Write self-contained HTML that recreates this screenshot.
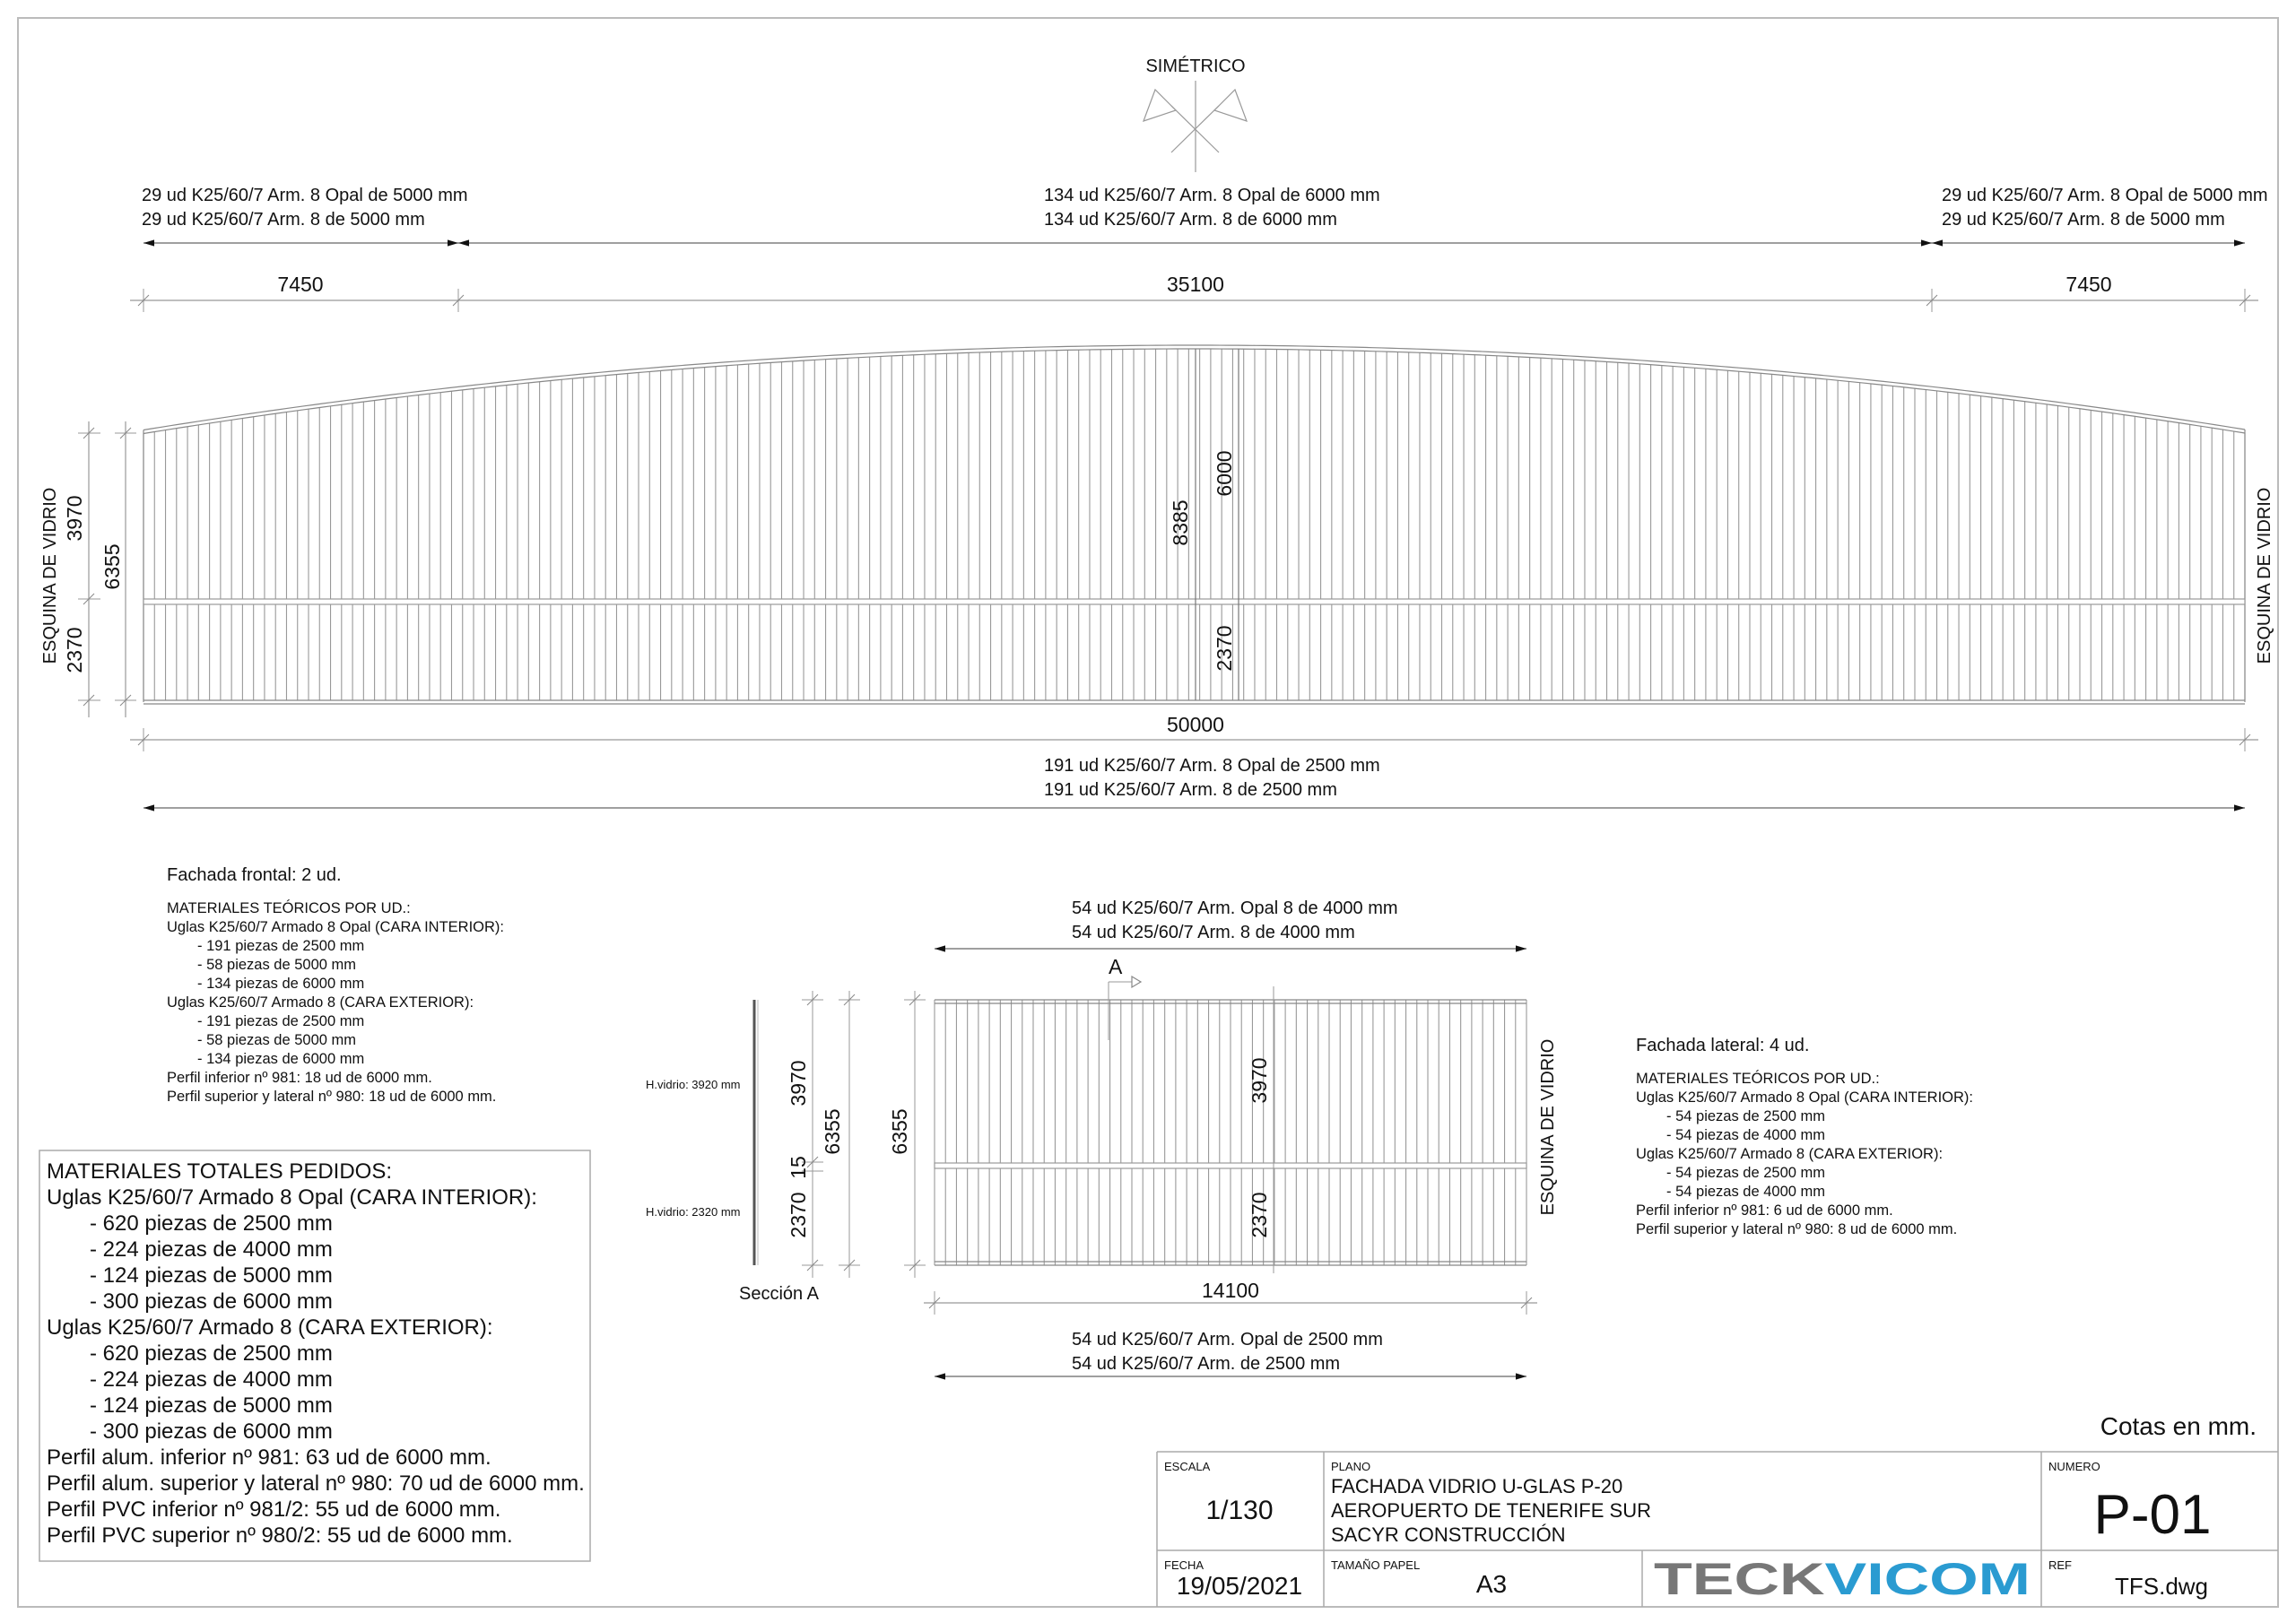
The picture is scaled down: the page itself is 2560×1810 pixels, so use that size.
<!DOCTYPE html>
<html><head><meta charset="utf-8">
<style>
html,body{margin:0;padding:0;background:#fff;}
svg{display:block;}
text{font-family:"Liberation Sans",sans-serif;fill:#111;}
</style></head>
<body>
<svg id="s" width="2560" height="1810" viewBox="0 0 2560 1810" xmlns="http://www.w3.org/2000/svg">
<defs>
<marker id="ar" viewBox="0 0 10 10" refX="10" refY="5" markerWidth="12" markerHeight="12" markerUnits="userSpaceOnUse" orient="auto-start-reverse"><path d="M0,2 L10,5 L0,8 z" fill="#111"/></marker>
</defs>
<rect x="20" y="20" width="2520" height="1772" fill="none" stroke="#bbb" stroke-width="2"/>
<g id="g" stroke="#888" stroke-width="1.2" fill="none"></g>

<g stroke="#999" stroke-width="1.2" fill="none">
<line x1="1333" y1="90" x2="1333" y2="192"/>
<line x1="1306" y1="170" x2="1359" y2="118"/>
<line x1="1359" y1="170" x2="1306" y2="118"/>
<polygon points="1288,100 1275,135 1311,123"/>
<polygon points="1377,100 1390,135 1354,123"/>
</g>
<text x="1333" y="80" font-size="20" text-anchor="middle">SIMÉTRICO</text>

<g font-size="20">
<text x="158" y="224">29 ud K25/60/7 Arm. 8 Opal de 5000 mm</text>
<text x="158" y="251">29 ud K25/60/7 Arm. 8 de 5000 mm</text>
<text x="1164" y="224">134 ud K25/60/7 Arm. 8 Opal de 6000 mm</text>
<text x="1164" y="251">134 ud K25/60/7 Arm. 8 de 6000 mm</text>
<text x="2165" y="224">29 ud K25/60/7 Arm. 8 Opal de 5000 mm</text>
<text x="2165" y="251">29 ud K25/60/7 Arm. 8 de 5000 mm</text>
<text x="1164" y="860">191 ud K25/60/7 Arm. 8 Opal de 2500 mm</text>
<text x="1164" y="887">191 ud K25/60/7 Arm. 8 de 2500 mm</text>
</g>
<g font-size="23" text-anchor="middle">
<text x="335" y="325">7450</text>
<text x="1333" y="325">35100</text>
<text x="2329" y="325">7450</text>
<text x="1333" y="816">50000</text>
</g>
<g font-size="23" text-anchor="middle">
<text transform="translate(62,642) rotate(-90)" font-size="20">ESQUINA DE VIDRIO</text>
<text transform="translate(91,578) rotate(-90)">3970</text>
<text transform="translate(91,725) rotate(-90)">2370</text>
<text transform="translate(133,632) rotate(-90)">6355</text>
<text transform="translate(1324,583) rotate(-90)">8385</text>
<text transform="translate(1373,528) rotate(-90)">6000</text>
<text transform="translate(1373,723) rotate(-90)">2370</text>
<text transform="translate(2531,642) rotate(-90)" font-size="20">ESQUINA DE VIDRIO</text>
</g>

<text x="186" y="982" font-size="20">Fachada frontal: 2 ud.</text>
<g font-size="16.5">
<text x="186" y="1018">MATERIALES TEÓRICOS POR UD.:</text>
<text x="186" y="1039">Uglas K25/60/7 Armado 8 Opal (CARA INTERIOR):</text>
<text x="220" y="1060">- 191 piezas de 2500 mm</text>
<text x="220" y="1081">- 58 piezas de 5000 mm</text>
<text x="220" y="1102">- 134 piezas de 6000 mm</text>
<text x="186" y="1123">Uglas K25/60/7 Armado 8 (CARA EXTERIOR):</text>
<text x="220" y="1144">- 191 piezas de 2500 mm</text>
<text x="220" y="1165">- 58 piezas de 5000 mm</text>
<text x="220" y="1186">- 134 piezas de 6000 mm</text>
<text x="186" y="1207">Perfil inferior nº 981: 18 ud de 6000 mm.</text>
<text x="186" y="1228">Perfil superior y lateral nº 980: 18 ud de 6000 mm.</text>
</g>

<text x="1824" y="1172" font-size="20">Fachada lateral: 4 ud.</text>
<g font-size="16.5">
<text x="1824" y="1208">MATERIALES TEÓRICOS POR UD.:</text>
<text x="1824" y="1229">Uglas K25/60/7 Armado 8 Opal (CARA INTERIOR):</text>
<text x="1858" y="1250">- 54 piezas de 2500 mm</text>
<text x="1858" y="1271">- 54 piezas de 4000 mm</text>
<text x="1824" y="1292">Uglas K25/60/7 Armado 8 (CARA EXTERIOR):</text>
<text x="1858" y="1313">- 54 piezas de 2500 mm</text>
<text x="1858" y="1334">- 54 piezas de 4000 mm</text>
<text x="1824" y="1355">Perfil inferior nº 981: 6 ud de 6000 mm.</text>
<text x="1824" y="1376">Perfil superior y lateral nº 980: 8 ud de 6000 mm.</text>
</g>

<rect x="44" y="1283" width="614" height="458" fill="none" stroke="#aaa" stroke-width="1.5"/>
<g font-size="24">
<text x="52" y="1314">MATERIALES TOTALES PEDIDOS:</text>
<text x="52" y="1343">Uglas K25/60/7 Armado 8 Opal (CARA INTERIOR):</text>
<text x="100" y="1372">- 620 piezas de 2500 mm</text>
<text x="100" y="1401">- 224 piezas de 4000 mm</text>
<text x="100" y="1430">- 124 piezas de 5000 mm</text>
<text x="100" y="1459">- 300 piezas de 6000 mm</text>
<text x="52" y="1488">Uglas K25/60/7 Armado 8 (CARA EXTERIOR):</text>
<text x="100" y="1517">- 620 piezas de 2500 mm</text>
<text x="100" y="1546">- 224 piezas de 4000 mm</text>
<text x="100" y="1575">- 124 piezas de 5000 mm</text>
<text x="100" y="1604">- 300 piezas de 6000 mm</text>
<text x="52" y="1633">Perfil alum. inferior nº 981: 63 ud de 6000 mm.</text>
<text x="52" y="1662">Perfil alum. superior y lateral nº 980: 70 ud de 6000 mm.</text>
<text x="52" y="1691">Perfil PVC inferior nº 981/2: 55 ud de 6000 mm.</text>
<text x="52" y="1720">Perfil PVC superior nº 980/2: 55 ud de 6000 mm.</text>
</g>

<g font-size="20">
<text x="1195" y="1019">54 ud K25/60/7 Arm. Opal 8 de 4000 mm</text>
<text x="1195" y="1046">54 ud K25/60/7 Arm. 8 de 4000 mm</text>
<text x="1195" y="1500">54 ud K25/60/7 Arm. Opal de 2500 mm</text>
<text x="1195" y="1527">54 ud K25/60/7 Arm. de 2500 mm</text>
<text x="824" y="1449">Sección A</text>
</g>
<text x="1236" y="1086" font-size="23">A</text>
<g font-size="13">
<text x="720" y="1214">H.vidrio: 3920 mm</text>
<text x="720" y="1356">H.vidrio: 2320 mm</text>
</g>
<g font-size="23" text-anchor="middle">
<text x="1372" y="1447">14100</text>
<text transform="translate(898,1208) rotate(-90)">3970</text>
<text transform="translate(898,1302) rotate(-90)">15</text>
<text transform="translate(898,1355) rotate(-90)">2370</text>
<text transform="translate(936,1262) rotate(-90)">6355</text>
<text transform="translate(1011,1262) rotate(-90)">6355</text>
<text transform="translate(1412,1205) rotate(-90)">3970</text>
<text transform="translate(1412,1355) rotate(-90)">2370</text>
<text transform="translate(1732,1257) rotate(-90)" font-size="20">ESQUINA DE VIDRIO</text>
</g>
<text x="2516" y="1600" font-size="28" text-anchor="end">Cotas en mm.</text>

<g stroke="#aaa" stroke-width="1.5" fill="none">
<line x1="1290" y1="1619" x2="2540" y2="1619"/>
<line x1="1290" y1="1729" x2="2540" y2="1729"/>
<line x1="1290" y1="1619" x2="1290" y2="1792"/>
<line x1="1476" y1="1619" x2="1476" y2="1792"/>
<line x1="1831" y1="1729" x2="1831" y2="1792"/>
<line x1="2276" y1="1619" x2="2276" y2="1792"/>
</g>
<g font-size="13">
<text x="1298" y="1640">ESCALA</text>
<text x="1484" y="1640">PLANO</text>
<text x="2284" y="1640">NUMERO</text>
<text x="1298" y="1750">FECHA</text>
<text x="1484" y="1750">TAMAÑO PAPEL</text>
<text x="2284" y="1750">REF</text>
</g>
<text x="1382" y="1694" font-size="30" text-anchor="middle">1/130</text>
<g font-size="22">
<text x="1484" y="1665">FACHADA VIDRIO U-GLAS P-20</text>
<text x="1484" y="1692">AEROPUERTO DE TENERIFE SUR</text>
<text x="1484" y="1719">SACYR CONSTRUCCIÓN</text>
</g>
<text x="2400" y="1710" font-size="62" text-anchor="middle">P-01</text>
<text x="1382" y="1778" font-size="28" text-anchor="middle">19/05/2021</text>
<text x="1663" y="1776" font-size="28" text-anchor="middle">A3</text>
<text x="2410" y="1778" font-size="26" text-anchor="middle">TFS.dwg</text>
<text x="1844" y="1778" font-size="50" font-weight="bold" textLength="420" lengthAdjust="spacingAndGlyphs" fill="#777" style="fill:#777">TECK<tspan style="fill:#2a9bd1">VICOM</tspan></text>
</svg>
<script>
(function(){
var g=document.getElementById('g');var NS='http://www.w3.org/2000/svg';
function L(x1,y1,x2,y2,c,w,m){var e=document.createElementNS(NS,'line');e.setAttribute('x1',x1);e.setAttribute('y1',y1);e.setAttribute('x2',x2);e.setAttribute('y2',y2);if(c)e.setAttribute('stroke',c);if(w)e.setAttribute('stroke-width',w);if(m){e.setAttribute('marker-start','url(#ar)');e.setAttribute('marker-end','url(#ar)');}g.appendChild(e);}
function tick(x,y){L(x-6,y+6,x+6,y-6,'#888',1);}
var X0=160,X1=2503,XC=1333,YT=483,YP=389,YB=781,YR=668;
function top(x){var t=(x-XC)/(X1-XC);return YP+(YT-YP)*t*t;}
var N=191;
for(var i=0;i<=N;i++){var x=X0+(X1-X0)*i/N;L(x,top(x),x,YB,'#999',1.1);}
var d='M'+X0+','+top(X0);for(var x=X0;x<=X1;x+=10)d+=' L'+x+','+top(x);d+=' L'+X1+','+top(X1);
var p=document.createElementNS(NS,'path');p.setAttribute('d',d);g.appendChild(p);
var p2=p.cloneNode();p2.setAttribute('transform','translate(0,-4)');g.appendChild(p2);
L(X0,top(X0)-4,X0,YB+2);L(X1,top(X1)-4,X1,YB+2);
var r=document.createElementNS(NS,'rect');r.setAttribute('x',X0);r.setAttribute('y',YR);r.setAttribute('width',X1-X0);r.setAttribute('height',6);r.setAttribute('fill','#fff');r.setAttribute('stroke','#999');g.appendChild(r);
L(X0,YB,X1,YB,'#888',1.2);L(X0,YB+4,X1,YB+4,'#888',1.2);
L(1333,YP,1333,YB,'#777',1.2);L(1381,YP,1381,YB,'#777',1.2);
L(X0,271,511,271,'#666',1.2,1);L(511,271,2154,271,'#666',1.2,1);L(2154,271,X1,271,'#666',1.2,1);
L(145,335,2518,335,'#999',1.2);
[X0,511,2154,X1].forEach(function(x){L(x,322,x,348,'#999',1);tick(x,335);});
L(145,825,2518,825,'#999',1.2);[X0,X1].forEach(function(x){L(x,812,x,838,'#999',1);tick(x,825);});
L(X0,901,X1,901,'#666',1.2,1);
L(99,470,99,800,'#999',1.2);L(140,470,140,800,'#999',1.2);
[YT,YR,YB].forEach(function(y){L(87,y,112,y,'#999',1);tick(99,y);});
[YT,YB].forEach(function(y){L(128,y,152,y,'#999',1);tick(140,y);});
var A0=1042,A1=1702,AT=1115,AB=1411,AR=1300;
var M=54;for(var i=0;i<=M;i++){var x=A0+(A1-A0)*i/M;L(x,AT,x,AB,'#999',1.1);}
L(A0,AT,A1,AT,'#888');L(A0,AT+4,A1,AT+4,'#888');L(A0,AB,A1,AB,'#888');L(A0,AB-4,A1,AB-4,'#888');
var r2=document.createElementNS(NS,'rect');r2.setAttribute('x',A0);r2.setAttribute('y',AR-3);r2.setAttribute('width',A1-A0);r2.setAttribute('height',6);r2.setAttribute('fill','#fff');r2.setAttribute('stroke','#999');g.appendChild(r2);
L(A0,1058,A1,1058,'#666',1.2,1);L(A0,1535,A1,1535,'#666',1.2,1);
L(1030,1453,1714,1453,'#999',1.2);[A0,A1].forEach(function(x){L(x,1440,x,1466,'#999',1);tick(x,1453);});
L(1420,1100,1420,1420,'#999',1);
L(1236,1095,1236,1160,'#999',1);L(1236,1095,1262,1095,'#999',1);
var pa=document.createElementNS(NS,'polygon');pa.setAttribute('points','1262,1089 1272,1095 1262,1101');g.appendChild(pa);
L(841,1115,841,1411,'#555',3);L(845,1115,845,1411,'#bbb',1);
[906,947,1020].forEach(function(x){L(x,1105,x,1425,'#999',1);});
[AT,AB].forEach(function(y){L(894,y,918,y,'#999',1);tick(906,y);L(935,y,959,y,'#999',1);tick(947,y);L(1008,y,1032,y,'#999',1);tick(1020,y);});
L(894,1296,918,1296,'#999',1);tick(906,1296);L(894,1306,918,1306,'#999',1);
})();
</script>
</body></html>
